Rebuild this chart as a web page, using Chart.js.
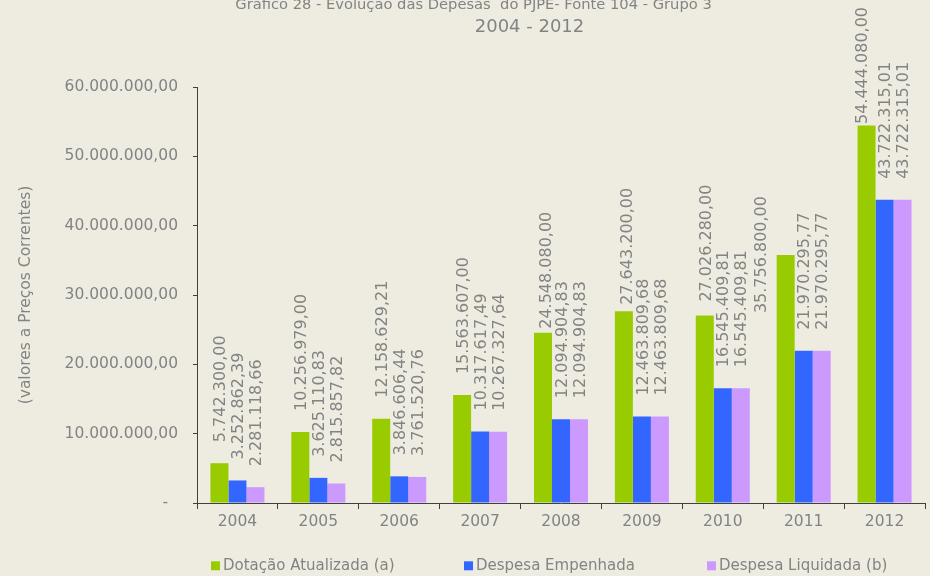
<!DOCTYPE html>
<html>
<head>
<meta charset="utf-8">
<script src="https://cdn.jsdelivr.net/npm/chart.js@4.4.1/dist/chart.umd.min.js"></script>
<style>
  html, body { margin: 0; padding: 0; background: #EEECE1; }
  canvas { display: block; }
</style>
</head>
<body>
<canvas id="c" width="930" height="576"></canvas>
<script>
// ---- data ----
const categories = ['2004', '2005', '2006', '2007', '2008', '2009', '2010', '2011', '2012'];
const seriesNames = ['Dotação Atualizada (a)', 'Despesa Empenhada', 'Despesa Liquidada (b)'];
const dotacao = [5742300.00, 10256979.00, 12158629.21, 15563607.00, 24548080.00, 27643200.00, 27026280.00, 35756800.00, 54444080.00];
const empenhada = [3252862.39, 3625110.83, 3846606.44, 10317617.49, 12094904.83, 12463809.68, 16545409.81, 21970295.77, 43722315.01];
const liquidada = [2281118.66, 2815857.82, 3761520.76, 10267327.64, 12094904.83, 12463809.68, 16545409.81, 21970295.77, 43722315.01];
const yTickLabels = ['-  ', '10.000.000,00', '20.000.000,00', '30.000.000,00', '40.000.000,00', '50.000.000,00', '60.000.000,00'];
const titleLines = ['Gráfico 28 - Evolução das Depesas  do PJPE- Fonte 104 - Grupo 3', '2004 - 2012'];
const yAxisTitle = '(valores a Preços Correntes)';

// ---- styles / layout ----
const FONT = '"DejaVu Sans", Verdana, sans-serif';
const TEXT = '#838383';
const AXIS = '#404040';
const colors = ['#99CC00', '#3366FF', '#CC99FF'];
// per-label position tweaks [datasetIndex][categoryIndex] = [dx, dy]
const labelShift = { 0: { 4: [2, 17], 5: [2.5, 14.5], 6: [1, 7], 7: [-25, 79], 8: [-5, 19.5] } };

function fmtBR(v) {
  const fixed = v.toFixed(2);
  let [ip, dp] = fixed.split('.');
  ip = ip.replace(/\B(?=(\d{3})+(?!\d))/g, '.');
  return ip + ',' + dp;
}

const extrasPlugin = {
  id: 'extras',
  afterDatasetsDraw(chart) {
    const ctx = chart.ctx;
    ctx.save();
    ctx.font = '16px ' + FONT;
    ctx.fillStyle = TEXT;
    ctx.textAlign = 'left';
    ctx.textBaseline = 'middle';
    chart.data.datasets.forEach((ds, di) => {
      const meta = chart.getDatasetMeta(di);
      meta.data.forEach((el, i) => {
        const sh = (labelShift[di] && labelShift[di][i]) || [0, 0];
        const x = el.x + 1.5 + sh[0];
        const y = el.y - 21 + sh[1];
        ctx.save();
        ctx.translate(x, y);
        ctx.rotate(-Math.PI / 2);
        ctx.fillText(fmtBR(ds.data[i]), 0, 0);
        ctx.restore();
      });
    });
    ctx.restore();
  },
  afterDraw(chart) {
    const ctx = chart.ctx;
    ctx.save();
    // title
    ctx.fillStyle = TEXT;
    ctx.textAlign = 'center';
    ctx.textBaseline = 'alphabetic';
    ctx.font = '14.7px ' + FONT;
    ctx.fillText(titleLines[0], 473.5, 8.5);
    ctx.font = '18px ' + FONT;
    ctx.fillText(titleLines[1], 529.5, 32.3);
    // legend
    const bx = [211, 464, 707];
    ctx.font = '15px ' + FONT;
    ctx.textAlign = 'left';
    chart.data.datasets.forEach((ds, di) => {
      ctx.fillStyle = ds.backgroundColor;
      ctx.fillRect(bx[di], 561.3, 9, 9);
      ctx.fillStyle = TEXT;
      ctx.fillText(ds.label, bx[di] + 12, 570.3);
    });
    ctx.restore();
  }
};

const tickFont = { family: FONT, size: 15.5 };

new Chart(document.getElementById('c'), {
  type: 'bar',
  data: {
    labels: categories,
    datasets: [
      { label: seriesNames[0], data: dotacao, backgroundColor: colors[0] },
      { label: seriesNames[1], data: empenhada, backgroundColor: colors[1] },
      { label: seriesNames[2], data: liquidada, backgroundColor: colors[2] }
    ]
  },
  options: {
    responsive: false,
    animation: false,
    devicePixelRatio: 1,
    categoryPercentage: 0.668,
    barPercentage: 1.0,
    layout: { padding: { top: 87, left: 0, right: 5, bottom: 28 } },
    plugins: {
      legend: { display: false },
      title: { display: false },
      tooltip: { enabled: false }
    },
    scales: {
      x: {
        grid: { offset: true, drawOnChartArea: false, tickLength: 6, color: AXIS, lineWidth: 1 },
        border: { color: AXIS, width: 1 },
        ticks: { font: tickFont, color: TEXT, padding: 4, maxRotation: 0 },
        afterFit(s) { s.height = 45; }
      },
      y: {
        min: 0,
        max: 60000000,
        grid: { drawOnChartArea: false, tickLength: 4, color: AXIS, lineWidth: 1 },
        border: { color: AXIS, width: 1 },
        ticks: {
          stepSize: 10000000,
          font: tickFont,
          color: TEXT,
          padding: 15,
          callback: (v) => yTickLabels[Math.round(v / 10000000)]
        },
        title: { display: true, text: yAxisTitle, color: TEXT, font: { family: FONT, size: 15.5 }, padding: { top: 17, bottom: 0 } },
        afterFit(s) { s.width = 197; }
      }
    }
  },
  plugins: [extrasPlugin]
});
</script>
</body>
</html>
